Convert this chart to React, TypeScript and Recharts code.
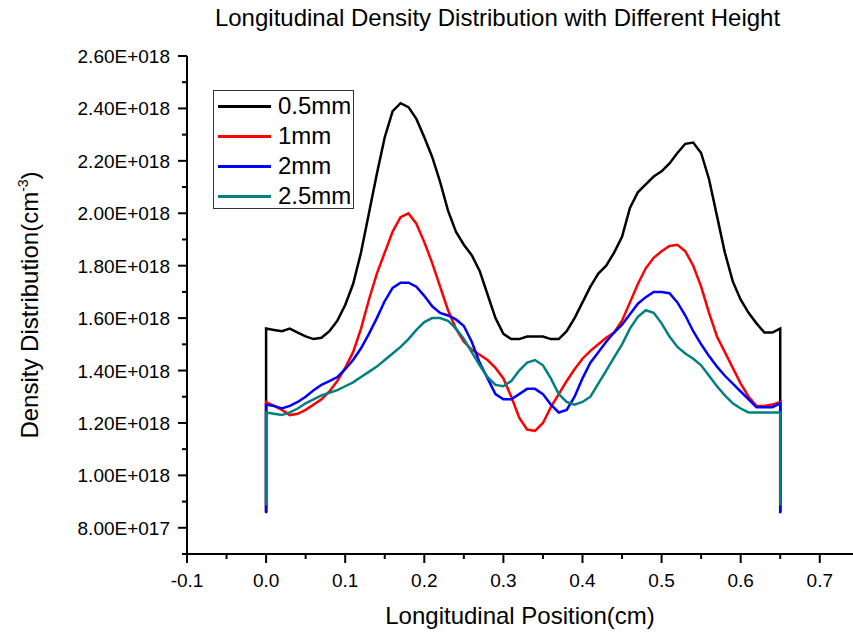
import React from 'react';
import { LineChart, Line, XAxis, YAxis, Label } from 'recharts';

// values are in units of 1E+018 cm^-3
const positions = [
  0.0, 0.01, 0.02, 0.03, 0.04, 0.05, 0.06, 0.07, 0.08, 0.09,
  0.1, 0.11, 0.12, 0.13, 0.14, 0.15, 0.16, 0.17, 0.18, 0.19,
  0.2, 0.21, 0.22, 0.23, 0.24, 0.25, 0.26, 0.27, 0.28, 0.29,
  0.3, 0.31, 0.32, 0.33, 0.34, 0.35, 0.36, 0.37, 0.38, 0.39,
  0.4, 0.41, 0.42, 0.43, 0.44, 0.45, 0.46, 0.47, 0.48, 0.49,
  0.5, 0.51, 0.52, 0.53, 0.54, 0.55, 0.56, 0.57, 0.58, 0.59,
  0.6, 0.61, 0.62, 0.63, 0.64, 0.65,
];

const h05 = [
  1.56, 1.555, 1.55, 1.56, 1.545, 1.53, 1.52, 1.525, 1.55, 1.59,
  1.65, 1.73, 1.85, 2.0, 2.15, 2.29, 2.39, 2.42, 2.405, 2.36,
  2.29, 2.215, 2.12, 2.01, 1.93, 1.88, 1.84, 1.78, 1.69, 1.6,
  1.54, 1.52, 1.52, 1.53, 1.53, 1.53, 1.52, 1.52, 1.55, 1.6,
  1.66, 1.72, 1.77, 1.8, 1.85, 1.91, 2.02, 2.08, 2.11, 2.14,
  2.16, 2.19, 2.23, 2.265, 2.27, 2.23, 2.13, 1.99, 1.85, 1.74,
  1.67, 1.62, 1.58, 1.545, 1.545, 1.56,
];

const h1 = [
  1.28, 1.265, 1.25, 1.23, 1.235, 1.25, 1.27, 1.29, 1.32, 1.36,
  1.41, 1.47, 1.56, 1.67, 1.77, 1.85, 1.93, 1.985, 2.0, 1.96,
  1.89, 1.81, 1.72, 1.63, 1.56, 1.51, 1.48, 1.46, 1.44, 1.41,
  1.37, 1.3, 1.22, 1.175, 1.17, 1.2, 1.26, 1.31, 1.36, 1.405,
  1.445, 1.475, 1.5, 1.525, 1.545, 1.59, 1.66, 1.73, 1.79, 1.83,
  1.855, 1.875, 1.88, 1.855, 1.8, 1.72, 1.62, 1.53, 1.47, 1.41,
  1.35, 1.3, 1.265, 1.265, 1.27, 1.28,
];

const h2 = [
  1.27, 1.265, 1.255, 1.265, 1.28, 1.3, 1.325, 1.345, 1.36, 1.375,
  1.405, 1.44, 1.485, 1.54, 1.6, 1.665, 1.715, 1.735, 1.735, 1.72,
  1.685, 1.645, 1.62, 1.61, 1.595, 1.57, 1.51, 1.43, 1.37, 1.31,
  1.29, 1.29, 1.31, 1.33, 1.33, 1.31, 1.27, 1.24, 1.25, 1.3,
  1.37, 1.43, 1.47, 1.51, 1.545, 1.575, 1.615, 1.655, 1.68, 1.7,
  1.7, 1.695, 1.66, 1.61, 1.55, 1.5, 1.455, 1.415, 1.38, 1.35,
  1.32, 1.29, 1.26, 1.26, 1.26, 1.275,
];

const h25 = [
  1.24, 1.235, 1.23, 1.24, 1.255, 1.275, 1.29, 1.305, 1.315, 1.325,
  1.34, 1.355, 1.375, 1.395, 1.415, 1.44, 1.465, 1.49, 1.52, 1.555,
  1.585, 1.6, 1.6, 1.59, 1.56, 1.52, 1.47, 1.42, 1.375, 1.345,
  1.34, 1.36, 1.4, 1.43, 1.44, 1.42, 1.37, 1.31, 1.28, 1.27,
  1.28, 1.3, 1.35, 1.4, 1.45, 1.5, 1.56, 1.605, 1.63, 1.62,
  1.58, 1.53, 1.49, 1.465, 1.445, 1.42, 1.38, 1.34, 1.305, 1.275,
  1.255, 1.24, 1.24, 1.24, 1.24, 1.24,
];

// value each curve drops to at both ends of the domain
const edgeDrop = { h05: 0.86, h1: 0.86, h2: 0.855, h25: 0.885 };

const xTicks = [-0.1, -0.05, 0, 0.05, 0.1, 0.15, 0.2, 0.25, 0.3, 0.35, 0.4, 0.45, 0.5, 0.55, 0.6, 0.65, 0.7];
const yTicks = [0.7, 0.8, 0.9, 1.0, 1.1, 1.2, 1.3, 1.4, 1.5, 1.6, 1.7, 1.8, 1.9, 2.0, 2.1, 2.2, 2.3, 2.4, 2.5, 2.6];

const series = [
  { key: 'h05', name: '0.5mm', color: '#000000' },
  { key: 'h1', name: '1mm', color: '#ff0000' },
  { key: 'h2', name: '2mm', color: '#0000ff' },
  { key: 'h25', name: '2.5mm', color: '#008080' },
];

const data = [
  { x: 0, ...edgeDrop },
  ...positions.map((x, i) => ({ x, h05: h05[i], h1: h1[i], h2: h2[i], h25: h25[i] })),
  { x: 0.65, ...edgeDrop },
];

const FONT = '"Liberation Sans", Arial, sans-serif';

const isMajor = (v: number, step: number) => Math.abs(v / step - Math.round(v / step)) < 1e-6;

const fmtY = (v: number) => (v >= 1 ? `${v.toFixed(2)}E+018` : `${(v * 10).toFixed(2)}E+017`);

const XTick = (props: any) => {
  const { x, y, payload } = props;
  const major = isMajor(payload.value, 0.1);
  return (
    <g>
      <line x1={x} y1={y} x2={x} y2={y + (major ? 9 : 5)} stroke="#000" strokeWidth={2} />
      {major && (
        <text x={x} y={y + 33} textAnchor="middle" fontSize={19} fontFamily={FONT} fill="#000">
          {payload.value.toFixed(1)}
        </text>
      )}
    </g>
  );
};

const YTick = (props: any) => {
  const { x, y, payload } = props;
  const major = isMajor(payload.value, 0.2) && payload.value > 0.75;
  return (
    <g>
      <line x1={x} y1={y} x2={x - (major ? 9 : 5)} y2={y} stroke="#000" strokeWidth={2} />
      {major && (
        <text x={x - 17} y={y + 7} textAnchor="end" fontSize={19} fontFamily={FONT} fill="#000">
          {fmtY(payload.value)}
        </text>
      )}
    </g>
  );
};

const LegendBox = () => (
  <div
    style={{
      position: 'absolute',
      left: 213,
      top: 90,
      border: '1px solid #333',
      background: '#fff',
      width: 141,
      height: 119,
      boxSizing: 'border-box',
      padding: '0 0 0 4px',
      fontFamily: FONT,
      fontSize: 24,
    }}
  >
    {series.map((s) => (
      <div key={s.key} style={{ display: 'flex', alignItems: 'center', height: 30 }}>
        <div style={{ width: 53, height: 3, background: s.color, marginRight: 7 }} />
        <span style={{ lineHeight: '30px' }}>{s.name}</span>
      </div>
    ))}
  </div>
);

const YLabel = () => (
  <text
    transform="translate(38, 305) rotate(-90)"
    textAnchor="middle"
    fontSize={24}
    fontFamily={FONT}
    fill="#000"
  >
    Density Distribution(cm
    <tspan fontSize={14} dy={-10}>-3</tspan>
    <tspan dy={10}>)</tspan>
  </text>
);

export default function App() {
  return (
    <div style={{ position: 'absolute', left: 0, top: 0, width: 853, height: 633, background: '#fff' }}>
      <div
        style={{
          position: 'absolute',
          left: 0,
          width: 853,
          top: 4,
          textAlign: 'center',
          fontFamily: FONT,
          fontSize: 24,
          paddingLeft: 142,
          boxSizing: 'border-box',
          zIndex: 1,
        }}
      >
        Longitudinal Density Distribution with Different Height
      </div>
      <LineChart width={853} height={633} data={data} margin={{ top: 56, right: 0, bottom: 0, left: 0 }}>
        <XAxis
          dataKey="x"
          type="number"
          domain={[-0.1, 0.742]}
          ticks={xTicks}
          interval={0}
          allowDataOverflow
          tick={<XTick />}
          tickLine={false}
          tickSize={0}
          tickMargin={0}
          height={79}
          axisLine={{ stroke: '#000', strokeWidth: 2 }}
        >
          <Label
            value="Longitudinal Position(cm)"
            position="insideBottom"
            offset={9}
            style={{ fontSize: 24, fontFamily: FONT, fill: '#000' }}
          />
        </XAxis>
        <YAxis
          type="number"
          domain={[0.7, 2.6]}
          ticks={yTicks}
          interval={0}
          allowDataOverflow
          width={187}
          tick={<YTick />}
          tickLine={false}
          tickSize={0}
          tickMargin={0}
          axisLine={{ stroke: '#000', strokeWidth: 2 }}
        >
          <Label content={<YLabel />} />
        </YAxis>
        {series.map((s) => (
          <Line
            key={s.key}
            dataKey={s.key}
            name={s.name}
            stroke={s.color}
            strokeWidth={2.5}
            dot={false}
            type="linear"
            isAnimationActive={false}
          />
        ))}
      </LineChart>
      <LegendBox />
    </div>
  );
}
